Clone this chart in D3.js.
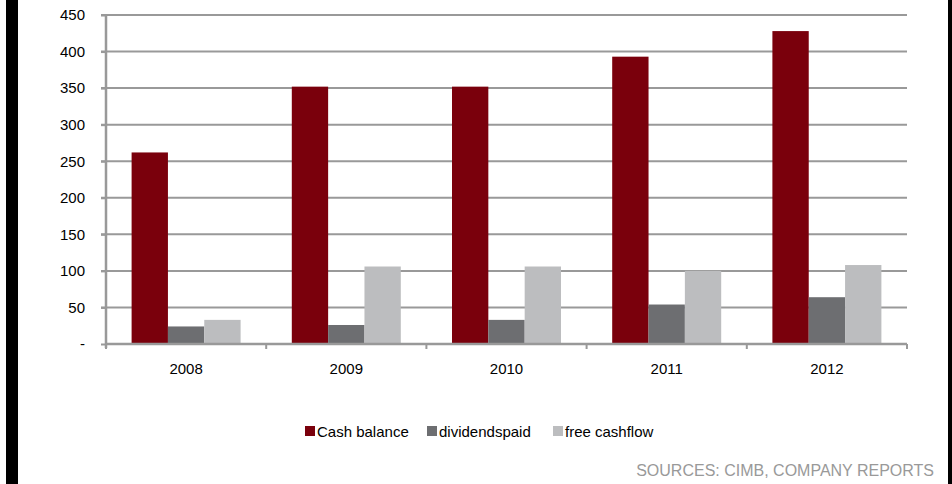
<!DOCTYPE html>
<html>
<head>
<meta charset="utf-8">
<script src="https://cdn.jsdelivr.net/npm/d3@7"></script>
<style>
  body { margin: 0; background: #fff; }
  svg { display: block; font-family: "Liberation Sans", Arial, sans-serif; }
</style>
</head>
<body>
<svg id="chart" width="952" height="484"></svg>
<script>
/* data */
const years = ["2008", "2009", "2010", "2011", "2012"];
const seriesNames = ["Cash balance", "dividends paid", "free cashflow"];
const cashBalance = [262, 352, 352, 393, 428];
const dividendsPaid = [24, 26, 33, 54, 64];
const freeCashflow = [33, 106, 106, 100, 108];
const yTicks = [0, 50, 100, 150, 200, 250, 300, 350, 400, 450];
const colors = ["#7a000c", "#6d6e71", "#bcbdbf"];

const svg = d3.select("#chart");

// side bars
svg.append("rect").attr("x", 6).attr("y", 0).attr("width", 12).attr("height", 484).attr("fill", "#000");
svg.append("rect").attr("x", 948).attr("y", 0).attr("width", 4).attr("height", 484).attr("fill", "#000");

const plotLeft = 106, plotRight = 907, plotTop = 15, plotBottom = 344;
const x = d3.scaleBand().domain(years).range([plotLeft, plotRight]);
const inner = d3.scaleBand().domain(seriesNames).range([0, 109]);
const y = d3.scaleLinear().domain([0, 450]).range([plotBottom, plotTop]);

const grid = "#999999";

// gridlines
svg.append("g")
  .selectAll("line")
  .data(yTicks.filter(d => d > 0))
  .join("line")
  .attr("x1", plotLeft - 5).attr("x2", plotRight)
  .attr("y1", d => y(d)).attr("y2", d => y(d))
  .attr("stroke", grid).attr("stroke-width", 2);

// bars
const rows = years.map((yr, i) => ({ yr, vals: [cashBalance[i], dividendsPaid[i], freeCashflow[i]] }));
svg.append("g")
  .selectAll("g")
  .data(rows)
  .join("g")
  .attr("transform", d => `translate(${x(d.yr) + (x.bandwidth() - 109) / 2},0)`)
  .selectAll("rect")
  .data(d => d.vals.map((v, k) => ({ v, k })))
  .join("rect")
  .attr("x", d => inner(seriesNames[d.k]))
  .attr("width", inner.bandwidth())
  .attr("y", d => y(d.v))
  .attr("height", d => plotBottom - y(d.v))
  .attr("fill", d => colors[d.k]);

// y axis
const yAxis = svg.append("g")
  .attr("transform", `translate(${plotLeft},0)`)
  .call(d3.axisLeft(y).tickValues(yTicks).tickSize(5).tickPadding(16)
    .tickFormat(d => d === 0 ? "-" : d));
yAxis.select(".domain").attr("stroke", grid).attr("stroke-width", 2.5).attr("d", `M0,${plotTop}V${plotBottom + 4}`);
yAxis.selectAll(".tick line").attr("stroke", grid).attr("stroke-width", 2);
yAxis.selectAll("text").attr("font-size", 15).attr("fill", "#000");

// x axis
const xAxis = svg.append("g")
  .attr("transform", `translate(0,${plotBottom})`)
  .call(d3.axisBottom(x).tickSize(0).tickPadding(19));
xAxis.select(".domain").attr("stroke", grid).attr("stroke-width", 2.5).attr("d", `M${plotLeft},0H${plotRight}`);
xAxis.selectAll("text").attr("font-size", 15).attr("fill", "#000");
svg.append("g")
  .selectAll("line")
  .data([plotLeft].concat(years.map(d => x(d) + x.bandwidth())))
  .join("line")
  .attr("x1", d => d).attr("x2", d => d)
  .attr("y1", plotBottom).attr("y2", plotBottom + 5)
  .attr("stroke", grid).attr("stroke-width", 2);

// legend
const legendItems = [
  { name: "Cash balance", x: 305 },
  { name: "dividendspaid", x: 427 },
  { name: "free cashflow", x: 553 }
];
const lg = svg.append("g").selectAll("g").data(legendItems).join("g")
  .attr("transform", d => `translate(${d.x},426)`);
lg.append("rect").attr("width", 10).attr("height", 10).attr("y", 0)
  .attr("fill", (d, i) => colors[i]);
lg.append("text").attr("x", 12).attr("y", 10.5).attr("font-size", 15).attr("fill", "#000")
  .text(d => d.name);

// source
svg.append("text")
  .attr("x", 934).attr("y", 476)
  .attr("text-anchor", "end")
  .attr("font-size", 16)
  .attr("fill", "#999")
  .text("SOURCES: CIMB, COMPANY REPORTS");
</script>
</body>
</html>
